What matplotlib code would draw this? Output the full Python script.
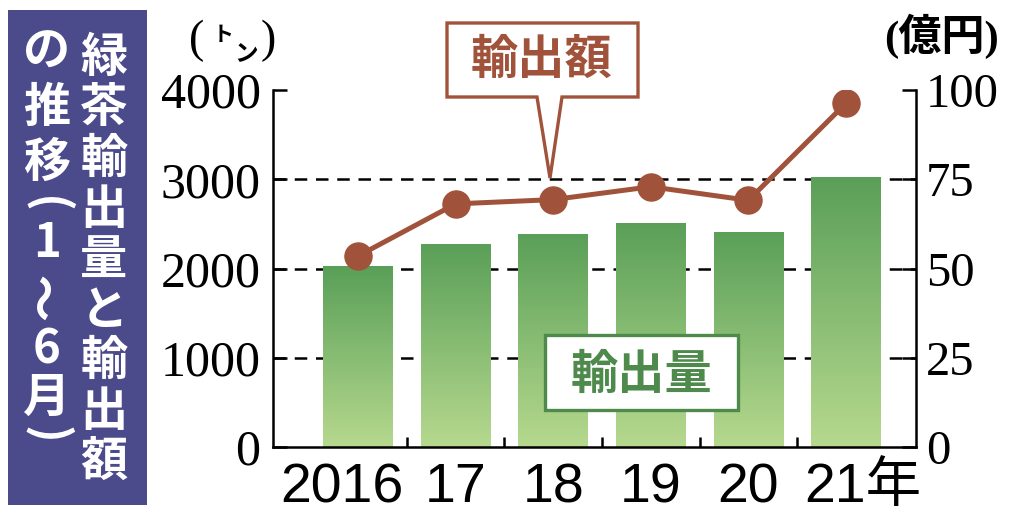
import numpy as np
import matplotlib
matplotlib.use("Agg")
import matplotlib.pyplot as plt
from matplotlib.colors import LinearSegmentedColormap
from matplotlib.patches import Polygon, Rectangle
from matplotlib.transforms import ScaledTranslation

# data
years = ["2016", "17", "18", "19", "20", "21年"]
volume_t = [2027, 2270, 2385, 2515, 2412, 3020]      # 輸出量 (トン)
value_oku = [53.5, 68.1, 69.3, 72.9, 69.1, 96.3]     # 輸出額 (億円)
left_ticks = [0, 1000, 2000, 3000, 4000]
right_ticks = [0, 25, 50, 75, 100]
title_right = "緑茶輸出量と輸出額"
title_left = ["の", "推", "移", "(", "1", "〜", "6", "月", ")"]

W, H = 1024, 517
BROWN = "#a0533a"
GREEN_TXT = "#4e8a4c"
PANEL = "#4b4a8b"
JP = ["Noto Sans CJK JP", "DejaVu Sans"]
SERIF = ["Liberation Serif", "Noto Sans CJK JP"]

fig = plt.figure(figsize=(W / 100, H / 100), dpi=100)
fig.patch.set_facecolor("white")


def fx(x):
    return x / W


def fy(y):
    return 1 - y / H


ax = fig.add_axes([fx(273), fy(447), (916 - 273) / W, (447 - 90) / H])
ax2 = ax.twinx()

x = np.arange(len(years))

# dashed grid behind bars
ax.hlines(left_ticks[1:-1], -0.871, 5.717, colors="black", lw=1.8,
          linestyles=(0, (5, 3.5)), zorder=1)

# bars with vertical gradient
grad = LinearSegmentedColormap.from_list("g", ["#b6d98e", "#5a9f58"])
bars = ax.bar(x, volume_t, width=0.713, color="#5a9f58", zorder=2)
g = np.linspace(0, 1, 256).reshape(-1, 1)
for b in bars:
    im = ax.imshow(g, cmap=grad, origin="lower", aspect="auto",
                   extent=[b.get_x(), b.get_x() + b.get_width(), 0, b.get_height()],
                   zorder=2.5)
    im.set_clip_path(b)

ax.set_xlim(-0.871, 5.717)
ax.set_ylim(0, 4000)

ax.spines["top"].set_visible(False)
for s in ["left", "right", "bottom"]:
    ax.spines[s].set_linewidth(1.8)
for s in ax2.spines.values():
    s.set_visible(False)

ax.set_yticks(left_ticks)
ax.set_yticklabels([str(t) for t in left_ticks], fontfamily="Liberation Serif",
                   fontsize=36)
ax.tick_params(axis="y", direction="in", length=10, width=1.8, pad=9)

ax.set_xticks(x)
ax.set_xticklabels(years, fontfamily=["Liberation Sans", "Noto Sans CJK JP"],
                   fontsize=40)
ax.set_xticks(x[:-1] + 0.5, minor=True)
ax.tick_params(axis="x", which="major", length=0, pad=11)
ax.tick_params(axis="x", which="minor", direction="in", length=7, width=1.8)
xl = ax.get_xticklabels()
xl[0].set_transform(xl[0].get_transform() + ScaledTranslation(-16 / 100, 0, fig.dpi_scale_trans))
xl[-1].set_transform(xl[-1].get_transform() + ScaledTranslation(17 / 100, 0, fig.dpi_scale_trans))

# line (value)
ax2.plot(x, value_oku, color=BROWN, lw=3.6, marker="o", ms=19.5, zorder=3)
ax2.set_ylim(0, 100)
ax2.set_yticks(right_ticks)
ax2.set_yticklabels([str(t) for t in right_ticks], fontfamily="Liberation Serif",
                    fontsize=35)
ax2.tick_params(axis="y", direction="in", length=10, width=1.8, pad=7)

# unit labels
fig.text(fx(197), fy(41), "(", fontfamily="Liberation Serif", fontsize=33,
         ha="center", va="center")
fig.text(fx(223), fy(35), "ト", fontfamily=JP, fontsize=15, fontweight="bold",
         ha="center", va="center")
fig.text(fx(246), fy(54), "ン", fontfamily=JP, fontsize=17, fontweight="bold",
         ha="center", va="center")
fig.text(fx(268), fy(41), ")", fontfamily="Liberation Serif", fontsize=33,
         ha="center", va="center")
fig.text(fx(942), fy(36), "(億円)", fontfamily=SERIF, fontsize=31,
         fontweight="bold", ha="center", va="center")

# callout: 輸出額
pts = [(447, 23), (638, 23), (638, 97), (562, 97), (550, 178), (537, 97), (447, 97)]
fig.patches.append(Polygon([(fx(a), fy(b)) for a, b in pts], closed=True,
                           transform=fig.transFigure, facecolor="white",
                           edgecolor=BROWN, lw=2.4, joinstyle="miter", zorder=5))
fig.text(fx(542), fy(60), "輸出額", fontfamily=JP, fontsize=34, fontweight="bold",
         color=BROWN, ha="center", va="center", zorder=6)

# callout: 輸出量
fig.patches.append(Rectangle((fx(545), fy(410)), (738 - 545) / W, (410 - 335) / H,
                             transform=fig.transFigure, facecolor="white",
                             edgecolor=GREEN_TXT, lw=2.4, zorder=5))
fig.text(fx(641), fy(375), "輸出量", fontfamily=JP, fontsize=34, fontweight="bold",
         color=GREEN_TXT, ha="center", va="center", zorder=6)

# title panel (vertical text)
fig.patches.append(Rectangle((fx(8), fy(505)), (147 - 8) / W, (505 - 10) / H,
                             transform=fig.transFigure, facecolor=PANEL,
                             edgecolor="none", zorder=1))
for i, ch in enumerate(title_right):
    fig.text(fx(104), fy(58 + 50.5 * i), ch, fontfamily=JP, fontsize=34,
             fontweight="bold", color="white", ha="center", va="center", zorder=2)
left_y = [52, 108, 163, 205, 243, 296, 350, 398, 435]
rots = {"(": -90, ")": -90, "〜": 90}
for ch, yy in zip(title_left, left_y):
    fig.text(fx(47), fy(yy), ch, fontfamily=JP, fontsize=34, fontweight="bold",
             color="white", ha="center", va="center", rotation=rots.get(ch, 0),
             zorder=2)

fig.savefig("out.png", dpi=100, facecolor="white")
